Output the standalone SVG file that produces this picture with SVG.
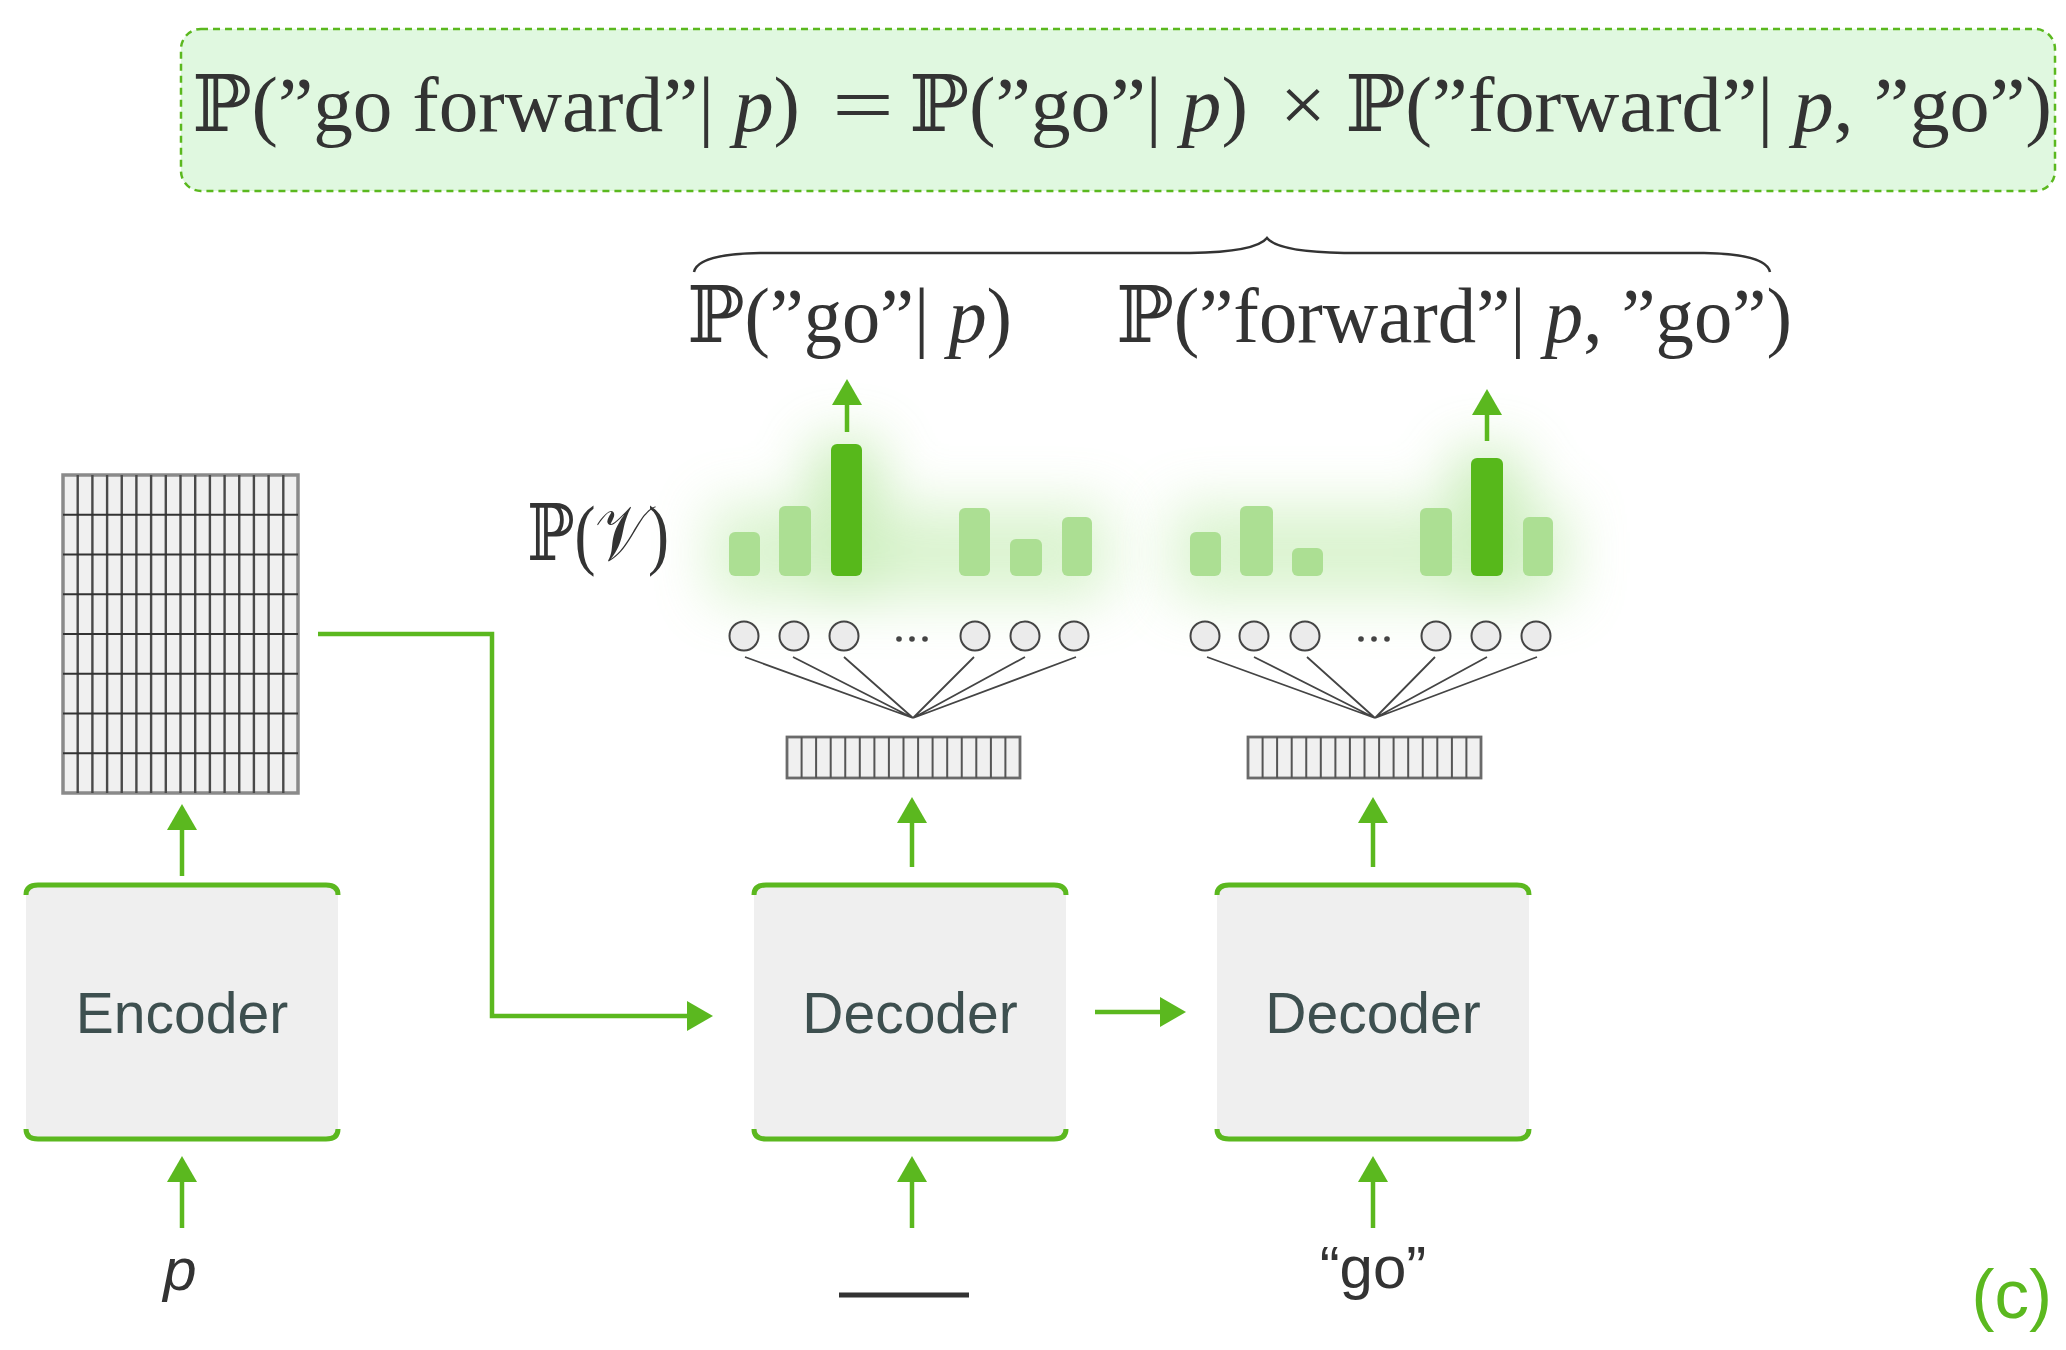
<svg xmlns="http://www.w3.org/2000/svg" width="2066" height="1350" viewBox="0 0 2066 1350">
<defs>
<style>
.math{font-family:"Liberation Serif","DejaVu Serif",serif;font-size:78px;fill:#333}
.it{font-style:italic}
.box{fill:#efefef}
.edge{fill:none;stroke:#5bb81f;stroke-width:5}
.lbl{font-family:"Liberation Sans",Arial,sans-serif;font-size:57px;fill:#3d4f4f;text-anchor:middle}
.in{font-family:"Liberation Sans",Arial,sans-serif;font-size:60px;fill:#333;text-anchor:middle}
.g{fill:none;stroke:#5bb81f;stroke-width:4.5}
.light{fill:#acdf93}
.dark{fill:#57b81b}
.neur{fill:#ebebeb;stroke:#444;stroke-width:2}
.fan{stroke:#444;stroke-width:1.8}
.cell{fill:#f0f0f0;stroke:#8a8a8a;stroke-width:3.5}
.vl{stroke:#4a4a4a;stroke-width:2.4}
.hl{stroke:#333;stroke-width:2.2}
.hb{fill:#f0f0f0;stroke:#6a6a6a;stroke-width:2.8}
.hv{stroke:#555;stroke-width:2}
</style>
<marker id="ah" markerUnits="userSpaceOnUse" markerWidth="28" markerHeight="30" viewBox="0 0 28 30" refX="2" refY="15" orient="auto">
<path d="M0,0 L26,15 L0,30 z" fill="#5bb81f"/>
</marker>
<filter id="blur" x="-100%" y="-100%" width="300%" height="300%">
<feGaussianBlur stdDeviation="28"/>
</filter>
</defs>
<rect width="2066" height="1350" fill="#ffffff"/>

<g id="formula">
<rect x="181" y="29" width="1874" height="162" rx="20" fill="#e0f8e0" stroke="#5bb81f" stroke-width="2.5" stroke-dasharray="7 5"/>
<text class="math" x="192" y="131" textLength="608" lengthAdjust="spacingAndGlyphs">ℙ(”go forward”| <tspan class="it">p</tspan>)</text>
<text class="math" x="832" y="131" textLength="62" lengthAdjust="spacingAndGlyphs">=</text>
<text class="math" x="909" y="131" textLength="339" lengthAdjust="spacingAndGlyphs">ℙ(”go”| <tspan class="it">p</tspan>)</text>
<text class="math" x="1280" y="131" textLength="46" lengthAdjust="spacingAndGlyphs">×</text>
<text class="math" x="1345" y="131" textLength="707" lengthAdjust="spacingAndGlyphs">ℙ(”forward”| <tspan class="it">p</tspan>, ”go”)</text>
</g>

<g id="brace">
<path d="M694 272 Q698 254 760 253 L1190 253 Q1256 252 1267 238 Q1278 252 1344 253 L1704 253 Q1766 254 1770 272" fill="none" stroke="#333" stroke-width="2.5"/>
<text class="math" x="687" y="342" textLength="325" lengthAdjust="spacingAndGlyphs">ℙ(”go”| <tspan class="it">p</tspan>)</text>
<text class="math" x="1116" y="342" textLength="676" lengthAdjust="spacingAndGlyphs">ℙ(”forward”| <tspan class="it">p</tspan>, ”go”)</text>
</g>

<g id="pv-label">
<text class="math" x="527" y="560" textLength="142" lengthAdjust="spacingAndGlyphs">ℙ(𝒱)</text>
</g>

<g id="encoder-output">
<rect class="cell" x="63" y="475" width="235" height="318"/>
<path class="vl" d="M77.7 475V793M92.4 475V793M107.1 475V793M121.75 475V793M136.4 475V793M151.1 475V793M165.8 475V793M180.5 475V793M195.2 475V793M209.9 475V793M224.6 475V793M239.25 475V793M253.9 475V793M268.6 475V793M283.3 475V793"/>
<path class="hl" d="M63 514.75H298M63 554.5H298M63 594.25H298M63 634H298M63 673.75H298M63 713.5H298M63 753.25H298"/>
</g>

<g id="dist1">
<g filter="url(#blur)" opacity="0.4">
<rect x="710" y="505" width="400" height="95" fill="#a6e38a"/>
<rect x="810" y="440" width="72" height="160" fill="#7fd458"/>
</g>
<rect class="light" x="729" y="532" width="31" height="44" rx="6"/>
<rect class="light" x="779" y="506" width="32" height="70" rx="6"/>
<rect class="dark" x="831" y="444" width="31" height="132" rx="6"/>
<rect class="light" x="959" y="508" width="31" height="68" rx="6"/>
<rect class="light" x="1010" y="539" width="32" height="37" rx="6"/>
<rect class="light" x="1062" y="517" width="30" height="59" rx="6"/>
</g>

<g id="dist2">
<g filter="url(#blur)" opacity="0.4">
<rect x="1171" y="505" width="400" height="95" fill="#a6e38a"/>
<rect x="1451" y="450" width="72" height="150" fill="#7fd458"/>
</g>
<rect class="light" x="1190" y="532" width="31" height="44" rx="6"/>
<rect class="light" x="1240" y="506" width="33" height="70" rx="6"/>
<rect class="light" x="1292" y="548" width="31" height="28" rx="6"/>
<rect class="light" x="1420" y="508" width="32" height="68" rx="6"/>
<rect class="dark" x="1471" y="458" width="32" height="118" rx="6"/>
<rect class="light" x="1523" y="517" width="30" height="59" rx="6"/>
</g>

<g id="softmax1">
<path class="fan" d="M745 657L913 718M793 657L913 718M844 657L913 718M974 657L913 718M1025 657L913 718M1076 657L913 718"/>
<circle class="neur" cx="744" cy="636" r="14.5"/>
<circle class="neur" cx="794" cy="636" r="14.5"/>
<circle class="neur" cx="844" cy="636" r="14.5"/>
<circle class="neur" cx="975" cy="636" r="14.5"/>
<circle class="neur" cx="1025" cy="636" r="14.5"/>
<circle class="neur" cx="1074" cy="636" r="14.5"/>
<circle cx="899" cy="639" r="2.8" fill="#444"/>
<circle cx="912" cy="639" r="2.8" fill="#444"/>
<circle cx="925" cy="639" r="2.8" fill="#444"/>
</g>

<g id="softmax2">
<path class="fan" d="M1207 657L1375 718M1254 657L1375 718M1307 657L1375 718M1435 657L1375 718M1487 657L1375 718M1537 657L1375 718"/>
<circle class="neur" cx="1205" cy="636" r="14.5"/>
<circle class="neur" cx="1254" cy="636" r="14.5"/>
<circle class="neur" cx="1305" cy="636" r="14.5"/>
<circle class="neur" cx="1436" cy="636" r="14.5"/>
<circle class="neur" cx="1486" cy="636" r="14.5"/>
<circle class="neur" cx="1536" cy="636" r="14.5"/>
<circle cx="1361" cy="639" r="2.8" fill="#444"/>
<circle cx="1374" cy="639" r="2.8" fill="#444"/>
<circle cx="1387" cy="639" r="2.8" fill="#444"/>
</g>

<g id="hidden1">
<rect class="hb" x="787" y="737" width="233" height="41"/>
<path class="hv" d="M801.6 737V778M816.1 737V778M830.7 737V778M845.25 737V778M859.8 737V778M874.4 737V778M888.9 737V778M903.5 737V778M918.1 737V778M932.6 737V778M947.2 737V778M961.75 737V778M976.3 737V778M990.9 737V778M1005.4 737V778"/>
</g>

<g id="hidden2">
<rect class="hb" x="1248" y="737" width="233" height="41"/>
<path class="hv" d="M1262.6 737V778M1277.1 737V778M1291.7 737V778M1306.25 737V778M1320.8 737V778M1335.4 737V778M1349.9 737V778M1364.5 737V778M1379.1 737V778M1393.6 737V778M1408.2 737V778M1422.75 737V778M1437.3 737V778M1451.9 737V778M1466.4 737V778"/>
</g>

<g id="encoder">
<rect class="box" x="26" y="885" width="312" height="254" rx="12"/>
<path class="edge" d="M26 895 Q26 885 38 885 H326 Q338 885 338 895"/>
<path class="edge" d="M26 1129 Q26 1139 38 1139 H326 Q338 1139 338 1129"/>
<text class="lbl" x="182" y="1033">Encoder</text>
</g>

<g id="decoder1">
<rect class="box" x="754" y="885" width="312" height="254" rx="12"/>
<path class="edge" d="M754 895 Q754 885 766 885 H1054 Q1066 885 1066 895"/>
<path class="edge" d="M754 1129 Q754 1139 766 1139 H1054 Q1066 1139 1066 1129"/>
<text class="lbl" x="910" y="1033">Decoder</text>
</g>

<g id="decoder2">
<rect class="box" x="1217" y="885" width="312" height="254" rx="12"/>
<path class="edge" d="M1217 895 Q1217 885 1229 885 H1517 Q1529 885 1529 895"/>
<path class="edge" d="M1217 1129 Q1217 1139 1229 1139 H1517 Q1529 1139 1529 1129"/>
<text class="lbl" x="1373" y="1033">Decoder</text>
</g>

<g id="inputs">
<text class="in it" x="180" y="1290">p</text>
<line x1="839" y1="1295" x2="969" y2="1295" stroke="#333" stroke-width="5"/>
<text class="in" x="1373" y="1288">“go”</text>
</g>

<g id="connectors">
<path class="g" d="M182 876V828" marker-end="url(#ah)"/>
<path class="g" d="M912 867V821" marker-end="url(#ah)"/>
<path class="g" d="M1373 867V821" marker-end="url(#ah)"/>
<path class="g" d="M182 1228V1180" marker-end="url(#ah)"/>
<path class="g" d="M912 1228V1180" marker-end="url(#ah)"/>
<path class="g" d="M1373 1228V1180" marker-end="url(#ah)"/>
<path class="g" d="M847 432V403" marker-end="url(#ah)"/>
<path class="g" d="M1487 441V413" marker-end="url(#ah)"/>
<path class="g" d="M318 634H492V1016H689" marker-end="url(#ah)"/>
<path class="g" d="M1095 1012H1162" marker-end="url(#ah)"/>
</g>

<text x="2052" y="1318" text-anchor="end" font-family="Liberation Sans,Arial,sans-serif" font-size="69" fill="#5bb81f">(c)</text>
</svg>
